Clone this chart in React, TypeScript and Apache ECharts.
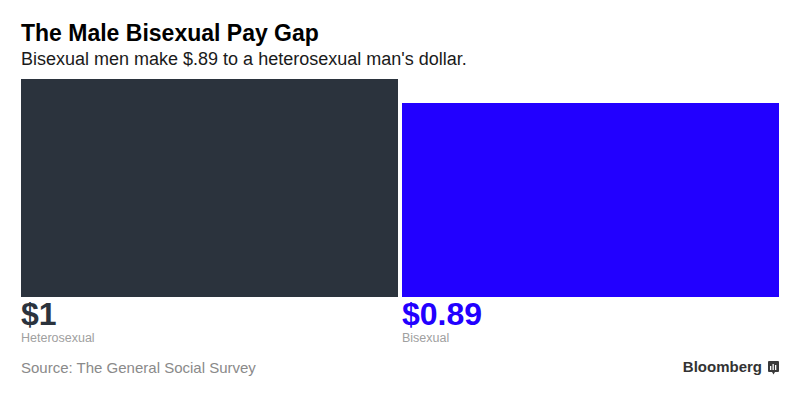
import React, { useEffect, useRef } from "react";
import * as echarts from "echarts";

const categories = ["Heterosexual", "Bisexual"];
const values = [1, 0.89];
const valueLabels = ["$1", "$0.89"];
const barColors = ["#2b333d", "#2200ff"];

const FONT = "'Liberation Sans', Arial, Helvetica, sans-serif";

export default function App() {
  const ref = useRef<HTMLDivElement>(null);
  useEffect(() => {
    if (!ref.current) return;
    const chart = echarts.init(ref.current, null, { renderer: "svg" });
    chart.setOption({
      animation: false,
      backgroundColor: "#ffffff",
      textStyle: { fontFamily: FONT },
      title: [
        {
          text: "The Male Bisexual Pay Gap",
          left: 21,
          top: 21,
          padding: 0,
          textStyle: { fontFamily: FONT, fontSize: 23, fontWeight: "bold", color: "#000000" },
        },
        {
          text: "Bisexual men make $.89 to a heterosexual man's dollar.",
          left: 21,
          top: 50,
          padding: 0,
          textStyle: { fontFamily: FONT, fontSize: 18, fontWeight: "normal", color: "#1a1a1a" },
        },
        {
          text: "Source: The General Social Survey",
          left: 21,
          top: 360,
          padding: 0,
          textStyle: { fontFamily: FONT, fontSize: 15, fontWeight: "normal", color: "#8a8a8a" },
        },
      ],
      grid: { left: 19, right: 19, top: 79, bottom: 100, containLabel: false },
      xAxis: {
        type: "category",
        data: categories,
        show: false,
      },
      yAxis: { type: "value", min: 0, max: 1, show: false },
      series: [
        {
          type: "bar",
          barWidth: 377,
          data: values.map((v, i) => ({
            value: v,
            itemStyle: { color: barColors[i] },
            label: {
              show: true,
              position: [0, "100%"],
              align: "left",
              verticalAlign: "top",
              formatter: `{v|${valueLabels[i]}}\n{n|${categories[i]}}`,
              rich: {
                v: { fontFamily: FONT, fontSize: 32, fontWeight: "bold", color: barColors[i], lineHeight: 33 },
                n: { fontFamily: FONT, fontSize: 12.5, color: "#a0a0a0", lineHeight: 16 },
              },
            },
          })),
        },
      ],
      graphic: [
        {
          type: "text",
          right: 38,
          top: 359,
          style: { text: "Bloomberg", font: `bold 15px ${FONT}`, fill: "#333333" },
        },
        {
          type: "group",
          right: 21,
          top: 361,
          children: [
            { type: "rect", shape: { x: 0, y: 0, width: 11, height: 11, r: 1 }, style: { fill: "#3a3a3a" } },
            { type: "polygon", shape: { points: [[4, 11], [7, 11], [5.5, 13.5]] }, style: { fill: "#3a3a3a" } },
            { type: "rect", shape: { x: 2, y: 5, width: 1.3, height: 4 }, style: { fill: "#ffffff" } },
            { type: "rect", shape: { x: 4.5, y: 3, width: 1.3, height: 6 }, style: { fill: "#ffffff" } },
            { type: "rect", shape: { x: 7, y: 4, width: 1.3, height: 5 }, style: { fill: "#ffffff" } },
          ],
        },
      ],
    });
    return () => chart.dispose();
  }, []);
  return (
    <div
      ref={ref}
      style={{ position: "absolute", left: 0, top: 0, width: 800, height: 397 }}
    />
  );
}
